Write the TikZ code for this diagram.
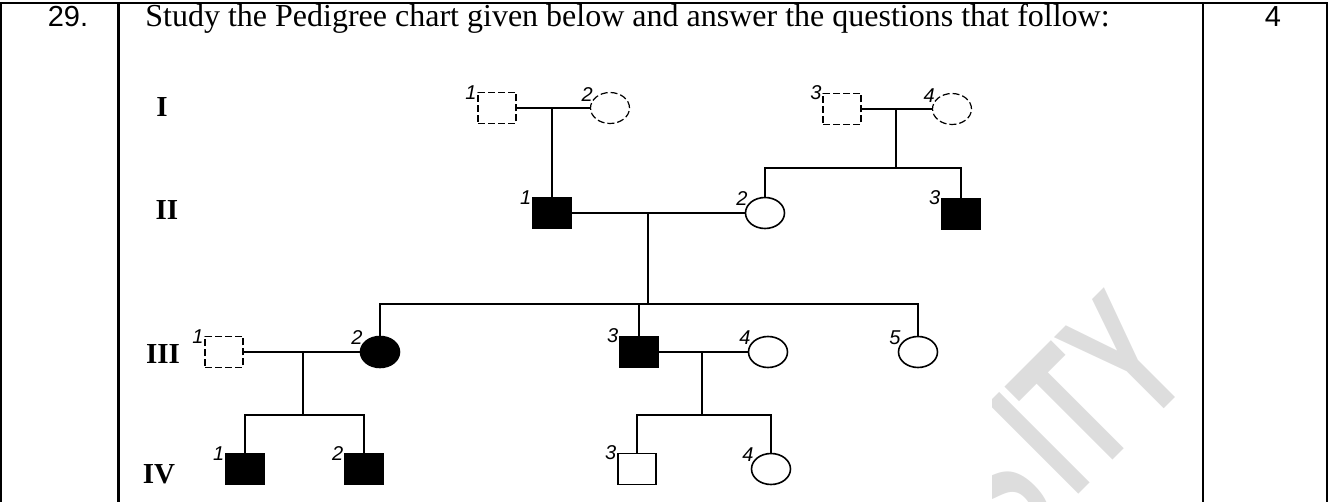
\documentclass[tikz,border=0pt]{standalone}
\usepackage{fontspec}
\setmainfont{Liberation Serif}
\newfontfamily\arialfont{Liberation Sans}
\usetikzlibrary{shapes.geometric}
\definecolor{wmgray}{RGB}{221,221,221}

\newcommand*{\rowI}{108}
\newcommand*{\rowII}{213}
\newcommand*{\rowIII}{352}
\newcommand*{\rowIV}{469}

\begin{document}
\begin{tikzpicture}
[
	x=0.5pt, y=-0.5pt,
	male/.style={rectangle,draw,line width=0.8pt,minimum width=19pt,minimum height=15.5pt,inner sep=0pt},
	female/.style={ellipse,draw,line width=0.8pt,minimum width=19.5pt,minimum height=15.5pt,inner sep=0pt},
	affected/.style={fill=black},
	unknown/.style={dash pattern=on 3.5pt off 1.5pt,line width=0.6pt},
	every label/.style={font=\arialfont\itshape\fontsize{10}{10}\selectfont,inner sep=0pt,yshift=-1.6pt},
	label distance=0.3pt,
	gen/.style={font=\bfseries\fontsize{14.5}{14.5}\selectfont,anchor=base,inner sep=0pt},
	link/.style={line width=0.8pt},
	rule/.style={line width=1.2pt}
]
	\useasboundingbox (0,0) rectangle (1330,502);

	% watermark
	\begin{scope}
		\clip (992,4) rectangle (1202,502);
		\node[wmgray,font=\arialfont\bfseries\fontsize{93}{93}\selectfont,rotate=45,xscale=0.6,anchor=base east,inner sep=0pt] (wm) at (1196,377) {S\kern10pt ITY};
	\end{scope}

	% table
	\draw[rule] (1.3,502) -- (1.3,2.8) -- (1326.7,2.8) -- (1326.7,502);
	\draw[rule] (118.5,2.8) -- (118.5,502);
	\draw[rule] (1202.8,2.8) -- (1202.8,502);

	\node[font=\arialfont\fontsize{14.5}{14.5}\selectfont,anchor=base,inner sep=0pt] (qno) at (68,27) {29.};
	\node[font=\fontsize{16}{16}\selectfont,anchor=base west,inner sep=0pt] (question) at (145,27) {Study the Pedigree chart given below and answer the questions that follow:};
	\node[font=\arialfont\fontsize{14.5}{14.5}\selectfont,anchor=base,inner sep=0pt] (marks) at (1273,27) {4};

	% generations
	\node[gen] (gI) at (162,117) {I};
	\node[gen] (gII) at (167,220) {II};
	\node[gen] (gIII) at (163,364) {III};
	\node[gen] (gIV) at (159,484) {IV};

	% generation I
	\node[male,unknown,label=150:1] (i1) at (497,\rowI) {};
	\node[female,unknown,label=150:2] (i2) at (610,\rowI) {};
	\node[male,unknown,label=150:3] (i3) at (842,109) {};
	\node[female,unknown,label=150:4] (i4) at (952,109) {};

	% generation II
	\node[male,affected,label=150:1] (ii1) at (552,\rowII) {};
	\node[female,label=150:2] (ii2) at (765,\rowII) {};
	\node[male,affected,label=150:3] (ii3) at (961,214) {};

	% generation III
	\node[male,unknown,label=150:1] (iii1) at (224,\rowIII) {};
	\node[female,affected,label=150:2] (iii2) at (380,\rowIII) {};
	\node[male,affected,label=150:3] (iii3) at (639,\rowIII) {};
	\node[female,label=150:4] (iii4) at (768,\rowIII) {};
	\node[female,label=150:5] (iii5) at (918,\rowIII) {};

	% generation IV
	\node[male,affected,label=150:1] (iv1) at (245,\rowIV) {};
	\node[male,affected,label=150:2] (iv2) at (364,\rowIV) {};
	\node[male,label=150:3] (iv3) at (637,\rowIV) {};
	\node[female,label=150:4] (iv4) at (771,\rowIV) {};

	% junctions
	\coordinate (m1) at (552,\rowI);
	\coordinate (m2) at (896,109);
	\coordinate (s2) at (896,168);
	\coordinate (m3) at (648,\rowII);
	\coordinate (s3) at (648,304);
	\coordinate (m4) at (303,\rowIII);
	\coordinate (s4) at (303,415);
	\coordinate (m5) at (702,\rowIII);
	\coordinate (s5) at (702,415);

	% matings and offspring
	\draw[link] (i1.east) -- (i2.west);
	\draw[link] (m1) -- (ii1.north);
	\draw[link] (i3.east) -- (i4.west);
	\draw[link] (m2) -- (s2);
	\draw[link] (ii2.north) |- (s2) -| (ii3.north);

	\draw[link] (ii1.east) -- (ii2.west);
	\draw[link] (m3) -- (s3);
	\draw[link] (iii2.north) |- (s3) -| (iii5.north);
	\draw[link] (iii3.north) -- (iii3.north |- s3);

	\draw[link] (iii1.east) -- (iii2.west);
	\draw[link] (m4) -- (s4);
	\draw[link] (iv1.north) |- (s4) -| (iv2.north);

	\draw[link] (iii3.east) -- (iii4.west);
	\draw[link] (m5) -- (s5);
	\draw[link] (iv3.north) |- (s5) -| (iv4.north);

\end{tikzpicture}
\end{document}
